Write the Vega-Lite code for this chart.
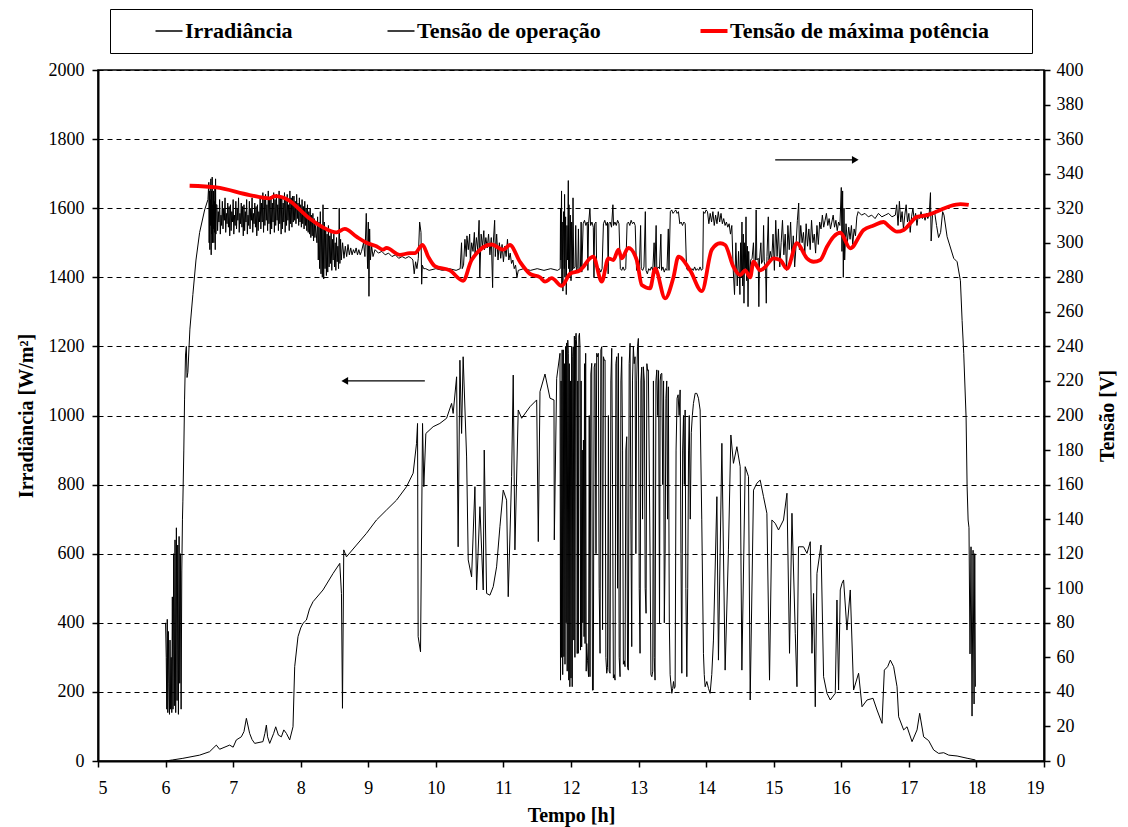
{
"$schema": "https://vega.github.io/schema/vega-lite/v6.json",
"width": 946, "height": 691,
"autosize": {"type": "none"},
"padding": {"left": 98, "top": 70, "right": 84, "bottom": 66},
"background": "white",
"config": {
  "font": "Liberation Serif",
  "view": {"stroke": "black", "strokeWidth": 1.5},
  "axis": {"domainColor": "black", "domainWidth": 2, "tickColor": "black", "tickWidth": 1.5, "tickSize": 6,
    "labelFont": "Liberation Serif", "labelFontSize": 18, "labelColor": "black",
    "titleFont": "Liberation Serif", "titleFontSize": 20, "titleFontWeight": "bold", "titleColor": "black"}
},
"datasets": {
"irr": [
{"t":6.0,"v":0},{"t":6.1,"v":3},{"t":6.256,"v":7.7},{"t":6.504,"v":17},{"t":6.652,"v":27},{"t":6.751,"v":46},{"t":6.8,"v":34},{"t":6.948,"v":46},{"t":7.0,"v":40},{"t":7.047,"v":61},{"t":7.121,"v":70},{"t":7.16,"v":85},{"t":7.196,"v":123.5},{"t":7.244,"v":80},{"t":7.28,"v":62},{"t":7.319,"v":51},{"t":7.441,"v":56},{"t":7.47,"v":80},{"t":7.492,"v":104},{"t":7.51,"v":70},{"t":7.541,"v":51},{"t":7.6,"v":80},{"t":7.63,"v":99},{"t":7.67,"v":75},{"t":7.714,"v":70},{"t":7.75,"v":90},{"t":7.788,"v":80},{"t":7.837,"v":61},{"t":7.886,"v":99},{"t":7.911,"v":273},{"t":7.96,"v":360},{"t":8.0,"v":385},{"t":8.034,"v":398.5},{"t":8.084,"v":408},{"t":8.13,"v":440},{"t":8.182,"v":461},{"t":8.33,"v":495},{"t":8.479,"v":543},{"t":8.578,"v":572},{"t":8.603,"v":485},{"t":8.618,"v":152.5},{"t":8.637,"v":611},{"t":8.677,"v":591},{"t":8.825,"v":625},{"t":8.973,"v":659},{"t":9.121,"v":697.5},{"t":9.27,"v":726.5},{"t":9.418,"v":755},{"t":9.566,"v":794},{"t":9.664,"v":833},{"t":9.714,"v":919.5},{"t":9.729,"v":977},{"t":9.738,"v":360},{"t":9.773,"v":316},{"t":9.803,"v":977},{"t":9.822,"v":794},{"t":9.852,"v":948},{"t":9.96,"v":967.6},{"t":10.059,"v":977},{"t":10.159,"v":992},{"t":10.233,"v":1035},{"t":10.256,"v":1006},{"t":10.307,"v":1112},{"t":10.33,"v":620},{"t":10.356,"v":1160},{"t":10.381,"v":948},{"t":10.404,"v":1170},{"t":10.455,"v":880},{"t":10.479,"v":582},{"t":10.529,"v":533},{"t":10.578,"v":794},{"t":10.603,"v":495},{"t":10.652,"v":736},{"t":10.701,"v":495},{"t":10.716,"v":900},{"t":10.751,"v":485},{"t":10.8,"v":480},{"t":10.849,"v":504.5},{"t":10.899,"v":562},{"t":10.948,"v":678},{"t":10.997,"v":784},{"t":11.047,"v":755},{"t":11.071,"v":475.5},{"t":11.121,"v":823},{"t":11.145,"v":1117},{"t":11.17,"v":611},{"t":11.219,"v":1016},{"t":11.27,"v":992},{"t":11.393,"v":1025.5},{"t":11.492,"v":1045},{"t":11.516,"v":635},{"t":11.541,"v":1069},{"t":11.615,"v":1120},{"t":11.689,"v":1050},{"t":11.748,"v":1045},{"t":11.753,"v":640},{"t":11.788,"v":1107.6},
{"t":11.837,"v":1180},{"t":11.845,"v":234},{"t":11.853,"v":1100},{"t":11.861,"v":300},{"t":11.869,"v":1190},{"t":11.877,"v":250},{"t":11.886,"v":1190},{"t":11.895,"v":302},{"t":11.903,"v":1150},{"t":11.911,"v":280},{"t":11.92,"v":1200},{"t":11.928,"v":400},{"t":11.936,"v":1210},{"t":11.944,"v":260},{"t":11.952,"v":1218},{"t":11.96,"v":1180},{"t":11.967,"v":234},{"t":11.975,"v":1150},{"t":11.983,"v":215},{"t":11.991,"v":1100},{"t":12.0,"v":240},{"t":12.01,"v":1200},{"t":12.018,"v":215},{"t":12.026,"v":1170},{"t":12.034,"v":1199},{"t":12.042,"v":350},{"t":12.05,"v":1230},{"t":12.058,"v":300},{"t":12.067,"v":1220},{"t":12.075,"v":1238},{"t":12.084,"v":1200},{"t":12.092,"v":311},{"t":12.1,"v":1100},{"t":12.108,"v":311.7},{"t":12.117,"v":1230},{"t":12.125,"v":1238},{"t":12.133,"v":1200},{"t":12.141,"v":321},{"t":12.15,"v":1100},{"t":12.158,"v":330},{"t":12.167,"v":900},{"t":12.175,"v":400},{"t":12.184,"v":929},{"t":12.193,"v":360},{"t":12.2,"v":1150},{"t":12.208,"v":340},{"t":12.217,"v":1180},{"t":12.225,"v":260},{"t":12.233,"v":340},{"t":12.245,"v":290},{"t":12.26,"v":244},{"t":12.27,"v":1000},{"t":12.281,"v":244},{"t":12.294,"v":1120},{"t":12.307,"v":1151},{"t":12.318,"v":205},{"t":12.33,"v":205.5},{"t":12.343,"v":1140},{"t":12.356,"v":1151},{"t":12.37,"v":600},{"t":12.38,"v":1180},{"t":12.392,"v":1170},{"t":12.404,"v":1180},{"t":12.417,"v":500},{"t":12.43,"v":311.7},{"t":12.442,"v":1190},{"t":12.455,"v":1199},{"t":12.467,"v":380},{"t":12.48,"v":1170},{"t":12.492,"v":1160},{"t":12.504,"v":1160.6},{"t":12.516,"v":300},{"t":12.529,"v":254},{"t":12.54,"v":270},{"t":12.553,"v":1000},{"t":12.565,"v":260},{"t":12.578,"v":254},{"t":12.59,"v":1100},{"t":12.603,"v":1194.5},{"t":12.615,"v":800},{"t":12.627,"v":240},{"t":12.64,"v":250},{"t":12.652,"v":234},{"t":12.665,"v":1150},{"t":12.677,"v":1170},{"t":12.689,"v":500},{"t":12.701,"v":1180},{"t":12.713,"v":300},{"t":12.726,"v":244},{"t":12.739,"v":1100},{"t":12.751,"v":1170},{"t":12.763,"v":900},{"t":12.775,"v":280},{"t":12.788,"v":290},{"t":12.8,"v":273},{"t":12.812,"v":900},{"t":12.825,"v":938.6},{"t":12.837,"v":270},{"t":12.849,"v":263},{"t":12.861,"v":1150},{"t":12.874,"v":1209},{"t":12.886,"v":700},{"t":12.899,"v":331},{"t":12.91,"v":1100},{"t":12.923,"v":1200},{"t":12.935,"v":1150},{"t":12.948,"v":1170},{"t":12.96,"v":600},{"t":12.972,"v":1100},{"t":12.985,"v":1200},{"t":12.997,"v":1223},{"t":13.01,"v":500},{"t":13.022,"v":311.7},{"t":13.035,"v":1100},{"t":13.047,"v":1140},{"t":13.059,"v":700},{"t":13.071,"v":1141},{"t":13.085,"v":1100},{"t":13.098,"v":500},{"t":13.111,"v":427.5},{"t":13.123,"v":1150},{"t":13.134,"v":1130},{"t":13.145,"v":1132},{"t":13.17,"v":600},{"t":13.183,"v":250},{"t":13.196,"v":244},{"t":13.21,"v":260},{"t":13.22,"v":1100},{"t":13.232,"v":300},{"t":13.244,"v":234},{"t":13.257,"v":1100},{"t":13.27,"v":1132},{"t":13.283,"v":1000},{"t":13.296,"v":1130},{"t":13.31,"v":400},{"t":13.32,"v":1100},{"t":13.33,"v":1120},{"t":13.344,"v":1122},{"t":13.357,"v":800},{"t":13.37,"v":1100},{"t":13.381,"v":400},{"t":13.393,"v":601},{"t":13.405,"v":1050},{"t":13.417,"v":1100},{"t":13.429,"v":700},{"t":13.441,"v":1083},{"t":13.455,"v":400},{"t":13.467,"v":250},{"t":13.48,"v":220},{"t":13.492,"v":196},{"t":13.505,"v":210},{"t":13.517,"v":230},{"t":13.529,"v":210},{"t":13.541,"v":215},{"t":13.555,"v":900},{"t":13.57,"v":1050},{"t":13.585,"v":1060},{"t":13.6,"v":1000},{"t":13.615,"v":1074},{"t":13.627,"v":600},{"t":13.64,"v":254},{"t":13.652,"v":900},{"t":13.665,"v":1000},{"t":13.677,"v":800},{"t":13.689,"v":1016},{"t":13.7,"v":500},{"t":13.714,"v":244},{"t":13.727,"v":500},{"t":13.74,"v":900},{"t":13.75,"v":1000},{"t":13.765,"v":700},{"t":13.78,"v":950},{"t":13.796,"v":1000},{"t":13.812,"v":1035},{"t":13.837,"v":1064},{"t":13.862,"v":1064},{"t":13.886,"v":1050},{"t":13.911,"v":1016},{"t":13.935,"v":700},{"t":13.96,"v":311.7},{"t":13.972,"v":250},{"t":13.985,"v":215},{"t":14.01,"v":230},{"t":14.035,"v":210},{"t":14.059,"v":196},{"t":14.083,"v":250},{"t":14.108,"v":350},{"t":14.159,"v":765},{"t":14.182,"v":292},{"t":14.233,"v":919.5},{"t":14.281,"v":263},{"t":14.33,"v":611},{"t":14.366,"v":943.6},{"t":14.404,"v":861.6},{"t":14.455,"v":909.7},{"t":14.504,"v":851.8},{"t":14.529,"v":263},{"t":14.578,"v":851.8},{"t":14.627,"v":823},{"t":14.652,"v":176.6},{"t":14.701,"v":784},{"t":14.751,"v":804},{"t":14.8,"v":813},{"t":14.849,"v":765},{"t":14.899,"v":717},{"t":14.938,"v":234},{"t":14.973,"v":697.5},{"t":15.022,"v":688},{"t":15.071,"v":668.6},{"t":15.145,"v":697.5},{"t":15.196,"v":775},{"t":15.234,"v":311.7},{"t":15.27,"v":717},{"t":15.319,"v":369.6},{"t":15.344,"v":215},{"t":15.367,"v":620},{"t":15.441,"v":620},{"t":15.492,"v":601},{"t":15.541,"v":634.7},{"t":15.566,"v":311.7},{"t":15.59,"v":485},{"t":15.615,"v":157},{"t":15.64,"v":543},{"t":15.7,"v":625},{"t":15.738,"v":244},{"t":15.788,"v":196},{"t":15.837,"v":176.6},{"t":15.911,"v":196},{"t":15.936,"v":466},{"t":15.96,"v":205.5},{"t":15.985,"v":495},{"t":16.01,"v":514},{"t":16.034,"v":524},{"t":16.084,"v":379},{"t":16.133,"v":495},{"t":16.182,"v":205.5},{"t":16.256,"v":254},{"t":16.307,"v":157},{"t":16.381,"v":176.6},{"t":16.47,"v":181.5},{"t":16.529,"v":147.6},{"t":16.603,"v":109},{"t":16.637,"v":263},{"t":16.686,"v":273},{"t":16.726,"v":292},{"t":16.775,"v":273},{"t":16.825,"v":215},{"t":16.849,"v":128},{"t":16.923,"v":90},{"t":16.973,"v":99},{"t":17.047,"v":56},{"t":17.121,"v":90},{"t":17.16,"v":138},{"t":17.219,"v":70},{"t":17.293,"v":59},{"t":17.367,"v":32},{"t":17.441,"v":22},{"t":17.516,"v":24},{"t":17.59,"v":17},{"t":17.714,"v":14.5},{"t":17.862,"v":8},{"t":17.985,"v":3}
],
"op": [
{"t":6.0,"v":80},{"t":6.01,"v":60},{"t":6.018,"v":30},{"t":6.025,"v":82},{"t":6.033,"v":28},{"t":6.041,"v":75},{"t":6.05,"v":45},{"t":6.058,"v":27},{"t":6.066,"v":70},{"t":6.075,"v":30},{"t":6.083,"v":60},{"t":6.092,"v":28},{"t":6.1,"v":95},{"t":6.11,"v":30},{"t":6.12,"v":120},{"t":6.13,"v":32},{"t":6.14,"v":128},{"t":6.15,"v":28},{"t":6.16,"v":135},{"t":6.17,"v":35},{"t":6.18,"v":125},{"t":6.19,"v":27},{"t":6.2,"v":130},{"t":6.21,"v":45},{"t":6.22,"v":120},{"t":6.23,"v":30},{"t":6.24,"v":110},{"t":6.25,"v":140},
{"t":6.256,"v":150},{"t":6.27,"v":180},{"t":6.281,"v":209},{"t":6.295,"v":235},{"t":6.307,"v":240},{"t":6.318,"v":222},{"t":6.33,"v":225},{"t":6.36,"v":250},{"t":6.404,"v":270},{"t":6.45,"v":290},{"t":6.504,"v":306},{"t":6.578,"v":319},{"t":6.627,"v":325},
{"t":6.64,"v":335},{"t":6.645,"v":300},{"t":6.65,"v":330},{"t":6.655,"v":296},{"t":6.66,"v":325},{"t":6.665,"v":310},{"t":6.67,"v":337},{"t":6.675,"v":293},{"t":6.68,"v":330},{"t":6.685,"v":305},{"t":6.69,"v":338},{"t":6.695,"v":300},{"t":6.7,"v":322},{"t":6.705,"v":308},{"t":6.71,"v":330},{"t":6.715,"v":300},{"t":6.72,"v":324},{"t":6.725,"v":306},{"t":6.73,"v":332},{"t":6.735,"v":296},{"t":6.74,"v":337},{"t":6.745,"v":305},{"t":6.75,"v":322},
{"t":6.76,"v":322},{"t":6.77,"v":307},{"t":6.78,"v":318},{"t":6.79,"v":312},{"t":6.8,"v":325},{"t":6.81,"v":305},{"t":6.82,"v":316},{"t":6.83,"v":310},{"t":6.84,"v":324},{"t":6.85,"v":308},{"t":6.86,"v":320},{"t":6.87,"v":313},{"t":6.88,"v":326},{"t":6.89,"v":306},{"t":6.9,"v":317},{"t":6.91,"v":311},{"t":6.92,"v":323},{"t":6.93,"v":309},{"t":6.94,"v":321},{"t":6.95,"v":304},{"t":6.96,"v":322},{"t":6.97,"v":307},{"t":6.98,"v":318},{"t":6.99,"v":312},{"t":7.0,"v":325},{"t":7.01,"v":305},{"t":7.02,"v":316},{"t":7.03,"v":310},{"t":7.04,"v":324},{"t":7.05,"v":308},{"t":7.06,"v":320},{"t":7.07,"v":313},{"t":7.08,"v":326},{"t":7.09,"v":306},{"t":7.1,"v":317},{"t":7.11,"v":311},{"t":7.12,"v":323},{"t":7.13,"v":309},{"t":7.14,"v":321},{"t":7.15,"v":304},{"t":7.16,"v":322},{"t":7.17,"v":307},{"t":7.18,"v":318},{"t":7.19,"v":312},{"t":7.2,"v":325},{"t":7.21,"v":305},{"t":7.22,"v":316},{"t":7.23,"v":310},{"t":7.24,"v":324},{"t":7.25,"v":308},{"t":7.26,"v":320},{"t":7.27,"v":313},{"t":7.28,"v":326},{"t":7.29,"v":306},{"t":7.3,"v":317},{"t":7.31,"v":311},{"t":7.32,"v":323},{"t":7.33,"v":309},{"t":7.34,"v":321},{"t":7.35,"v":304},{"t":7.36,"v":322},{"t":7.37,"v":307},{"t":7.38,"v":318},{"t":7.39,"v":312},
{"t":7.4,"v":327},{"t":7.41,"v":308},{"t":7.42,"v":323},{"t":7.43,"v":312},{"t":7.44,"v":329},{"t":7.45,"v":306},{"t":7.46,"v":325},{"t":7.47,"v":310},{"t":7.48,"v":328},{"t":7.49,"v":313},{"t":7.5,"v":322},{"t":7.51,"v":307},{"t":7.52,"v":330},{"t":7.53,"v":311},{"t":7.54,"v":326},{"t":7.55,"v":305},{"t":7.56,"v":327},{"t":7.57,"v":308},{"t":7.58,"v":323},{"t":7.59,"v":312},{"t":7.6,"v":329},{"t":7.61,"v":306},{"t":7.62,"v":325},{"t":7.63,"v":310},{"t":7.64,"v":328},{"t":7.65,"v":313},{"t":7.66,"v":322},{"t":7.67,"v":307},{"t":7.68,"v":330},{"t":7.69,"v":311},{"t":7.7,"v":326},{"t":7.71,"v":305},{"t":7.72,"v":327},{"t":7.73,"v":308},{"t":7.74,"v":323},{"t":7.75,"v":312},{"t":7.76,"v":329},{"t":7.77,"v":306},{"t":7.78,"v":325},{"t":7.79,"v":310},{"t":7.8,"v":328},{"t":7.81,"v":313},{"t":7.82,"v":322},{"t":7.83,"v":307},{"t":7.84,"v":330},{"t":7.85,"v":311},{"t":7.86,"v":326},{"t":7.87,"v":309},{"t":7.88,"v":327},{"t":7.89,"v":312},
{"t":7.9,"v":327},{"t":7.91,"v":313},{"t":7.92,"v":324},{"t":7.93,"v":311},{"t":7.94,"v":328},{"t":7.95,"v":314},{"t":7.96,"v":323},{"t":7.97,"v":310},{"t":7.98,"v":326},{"t":7.99,"v":312},{"t":8.0,"v":322},{"t":8.01,"v":309},{"t":8.02,"v":325},{"t":8.03,"v":311},{"t":8.04,"v":321},{"t":8.05,"v":308},{"t":8.06,"v":324},{"t":8.07,"v":310},{"t":8.08,"v":320},{"t":8.09,"v":307},{"t":8.1,"v":322},{"t":8.11,"v":306},{"t":8.12,"v":318},{"t":8.13,"v":305},{"t":8.14,"v":320},{"t":8.15,"v":303},{"t":8.16,"v":316},{"t":8.17,"v":304},{"t":8.18,"v":317},{"t":8.19,"v":301},{"t":8.2,"v":314},{"t":8.21,"v":303},{"t":8.22,"v":310},
{"t":8.24,"v":300},{"t":8.25,"v":315},{"t":8.26,"v":290},{"t":8.27,"v":312},{"t":8.28,"v":285},{"t":8.29,"v":318},{"t":8.3,"v":282},{"t":8.31,"v":310},{"t":8.32,"v":280},{"t":8.33,"v":322},{"t":8.34,"v":279},{"t":8.35,"v":312},{"t":8.36,"v":285},{"t":8.37,"v":308},{"t":8.38,"v":281},{"t":8.39,"v":305},{"t":8.4,"v":283},{"t":8.41,"v":310},{"t":8.42,"v":286},{"t":8.43,"v":304},{"t":8.44,"v":288},{"t":8.45,"v":306},{"t":8.46,"v":284},{"t":8.47,"v":302},{"t":8.48,"v":290},{"t":8.49,"v":305},{"t":8.5,"v":286},{"t":8.51,"v":300},{"t":8.52,"v":284},{"t":8.53,"v":303},{"t":8.54,"v":289},{"t":8.55,"v":298},{"t":8.56,"v":285},{"t":8.57,"v":320},{"t":8.58,"v":288},{"t":8.59,"v":302},{"t":8.6,"v":290},{"t":8.62,"v":300},{"t":8.64,"v":291},{"t":8.66,"v":298},{"t":8.68,"v":292},{"t":8.7,"v":299},{"t":8.72,"v":293},{"t":8.74,"v":297},{"t":8.76,"v":293},{"t":8.78,"v":296},{"t":8.8,"v":294},{"t":8.82,"v":297},{"t":8.84,"v":293},{"t":8.86,"v":296},{"t":8.88,"v":293},
{"t":8.9,"v":295},{"t":8.93,"v":300},{"t":8.95,"v":292},{"t":8.97,"v":317},{"t":8.99,"v":285},{"t":9.0,"v":312},{"t":9.01,"v":269},{"t":9.02,"v":308},{"t":9.03,"v":290},{"t":9.05,"v":298},{"t":9.07,"v":292},
{"t":9.1,"v":296},{"t":9.15,"v":294},{"t":9.2,"v":295},{"t":9.25,"v":293},{"t":9.3,"v":294},{"t":9.35,"v":292},{"t":9.4,"v":293},{"t":9.45,"v":291},{"t":9.5,"v":292},{"t":9.55,"v":291},{"t":9.6,"v":292},{"t":9.64,"v":291},
{"t":9.66,"v":290},{"t":9.68,"v":282},{"t":9.7,"v":289},{"t":9.72,"v":285},{"t":9.74,"v":291},{"t":9.76,"v":312},{"t":9.78,"v":306},{"t":9.79,"v":276},{"t":9.8,"v":287},{"t":9.82,"v":285},
{"t":9.85,"v":285},{"t":9.9,"v":284},{"t":10.0,"v":285},{"t":10.1,"v":284},{"t":10.2,"v":285},{"t":10.3,"v":284},{"t":10.36,"v":285},
{"t":10.38,"v":300},{"t":10.39,"v":285},{"t":10.41,"v":287},{"t":10.43,"v":302},{"t":10.45,"v":292},{"t":10.46,"v":304},{"t":10.48,"v":296},{"t":10.5,"v":305},{"t":10.51,"v":290},{"t":10.53,"v":300},{"t":10.55,"v":295},{"t":10.57,"v":306},{"t":10.58,"v":293},{"t":10.6,"v":303},{"t":10.62,"v":296},{"t":10.64,"v":313},{"t":10.65,"v":280},{"t":10.67,"v":305},{"t":10.69,"v":298},{"t":10.71,"v":307},{"t":10.72,"v":296},{"t":10.74,"v":303},{"t":10.76,"v":297},{"t":10.78,"v":305},{"t":10.8,"v":293},{"t":10.82,"v":303},{"t":10.84,"v":274},{"t":10.85,"v":300},{"t":10.87,"v":313},{"t":10.88,"v":292},{"t":10.9,"v":305},{"t":10.92,"v":290},{"t":10.94,"v":300},{"t":10.96,"v":291},{"t":10.98,"v":299},{"t":11.0,"v":289},{"t":11.02,"v":298},{"t":11.04,"v":292},{"t":11.06,"v":302},{"t":11.08,"v":290},{"t":11.1,"v":294},{"t":11.12,"v":288},{"t":11.14,"v":290},{"t":11.16,"v":285},{"t":11.18,"v":287},{"t":11.2,"v":280},{"t":11.22,"v":284},
{"t":11.3,"v":285},{"t":11.4,"v":284},{"t":11.5,"v":285},{"t":11.6,"v":284},{"t":11.7,"v":285},{"t":11.8,"v":284},{"t":11.84,"v":285},
{"t":11.845,"v":320},{"t":11.85,"v":290},{"t":11.86,"v":330},{"t":11.865,"v":275},{"t":11.87,"v":312},{"t":11.88,"v":272},{"t":11.89,"v":318},{"t":11.9,"v":285},{"t":11.905,"v":328},{"t":11.91,"v":280},{"t":11.92,"v":315},{"t":11.93,"v":270},{"t":11.94,"v":310},{"t":11.95,"v":290},{"t":11.96,"v":336},{"t":11.965,"v":285},{"t":11.97,"v":322},{"t":11.98,"v":280},{"t":11.99,"v":316},{"t":12.0,"v":278},{"t":12.01,"v":312},{"t":12.02,"v":284},{"t":12.03,"v":326},{"t":12.04,"v":285},{"t":12.06,"v":286},{"t":12.07,"v":310},{"t":12.08,"v":284},{"t":12.1,"v":285},{"t":12.11,"v":308},{"t":12.12,"v":284},{"t":12.14,"v":286},{"t":12.15,"v":312},{"t":12.16,"v":283},{"t":12.18,"v":311},{"t":12.2,"v":313},{"t":12.22,"v":310},{"t":12.24,"v":312},{"t":12.25,"v":284},{"t":12.26,"v":311},{"t":12.28,"v":320},{"t":12.29,"v":310},{"t":12.31,"v":312},{"t":12.33,"v":309},{"t":12.34,"v":280},{"t":12.35,"v":311},{"t":12.37,"v":312},{"t":12.38,"v":285},{"t":12.4,"v":284},{"t":12.42,"v":285},{"t":12.44,"v":283},{"t":12.46,"v":285},{"t":12.48,"v":311},{"t":12.5,"v":313},{"t":12.52,"v":310},{"t":12.54,"v":312},{"t":12.55,"v":282},{"t":12.56,"v":311},{"t":12.58,"v":312},{"t":12.6,"v":309},{"t":12.62,"v":322},{"t":12.63,"v":310},{"t":12.65,"v":312},{"t":12.67,"v":310},{"t":12.69,"v":313},{"t":12.71,"v":311},{"t":12.73,"v":285},{"t":12.75,"v":284},{"t":12.77,"v":286},{"t":12.79,"v":284},{"t":12.81,"v":285},{"t":12.83,"v":311},{"t":12.85,"v":312},{"t":12.87,"v":310},{"t":12.89,"v":313},{"t":12.91,"v":311},{"t":12.93,"v":312},{"t":12.95,"v":310},{"t":12.97,"v":284},{"t":12.99,"v":286},{"t":13.01,"v":284},{"t":13.03,"v":310},{"t":13.04,"v":285},{"t":13.06,"v":284},{"t":13.08,"v":286},{"t":13.1,"v":318},{"t":13.11,"v":284},{"t":13.13,"v":282},{"t":13.15,"v":285},{"t":13.17,"v":284},{"t":13.19,"v":286},{"t":13.21,"v":284},{"t":13.23,"v":300},{"t":13.24,"v":282},{"t":13.26,"v":310},{"t":13.27,"v":284},{"t":13.29,"v":286},{"t":13.31,"v":285},{"t":13.33,"v":305},{"t":13.34,"v":284},{"t":13.36,"v":286},{"t":13.38,"v":283},{"t":13.4,"v":285},{"t":13.42,"v":284},{"t":13.44,"v":308},{"t":13.45,"v":284},{"t":13.47,"v":318},{"t":13.49,"v":319},{"t":13.51,"v":317},{"t":13.53,"v":318},{"t":13.55,"v":319},{"t":13.57,"v":317},{"t":13.59,"v":318},{"t":13.61,"v":311},{"t":13.63,"v":312},{"t":13.65,"v":310},{"t":13.67,"v":312},{"t":13.69,"v":311},{"t":13.71,"v":285},{"t":13.73,"v":284},{"t":13.75,"v":286},{"t":13.77,"v":284},{"t":13.79,"v":285},{"t":13.81,"v":284},{"t":13.83,"v":286},{"t":13.85,"v":284},{"t":13.87,"v":285},{"t":13.89,"v":284},{"t":13.91,"v":286},{"t":13.93,"v":284},{"t":13.95,"v":285},{"t":13.96,"v":318},{"t":13.98,"v":317},{"t":14.0,"v":319},{"t":14.02,"v":318},{"t":14.04,"v":311},{"t":14.06,"v":317},{"t":14.08,"v":312},{"t":14.1,"v":318},{"t":14.12,"v":310},{"t":14.14,"v":316},{"t":14.16,"v":311},{"t":14.18,"v":318},{"t":14.2,"v":312},{"t":14.22,"v":317},{"t":14.24,"v":311},{"t":14.26,"v":314},{"t":14.28,"v":310},{"t":14.3,"v":312},{"t":14.32,"v":309},{"t":14.34,"v":311},{"t":14.36,"v":305},{"t":14.38,"v":310},{"t":14.4,"v":285},{"t":14.42,"v":270},{"t":14.44,"v":300},{"t":14.46,"v":275},{"t":14.48,"v":295},
{"t":14.5,"v":270},{"t":14.51,"v":300},{"t":14.52,"v":280},{"t":14.53,"v":312},{"t":14.54,"v":275},{"t":14.55,"v":305},{"t":14.56,"v":265},{"t":14.57,"v":300},{"t":14.58,"v":285},{"t":14.59,"v":315},{"t":14.6,"v":278},{"t":14.61,"v":298},{"t":14.62,"v":263},{"t":14.63,"v":295},{"t":14.64,"v":280},{"t":14.66,"v":290},{"t":14.68,"v":291},{"t":14.7,"v":300},{"t":14.71,"v":289},{"t":14.73,"v":290},{"t":14.74,"v":319},{"t":14.75,"v":290},{"t":14.77,"v":291},{"t":14.78,"v":263},{"t":14.79,"v":290},{"t":14.81,"v":300},{"t":14.82,"v":288},{"t":14.84,"v":290},{"t":14.85,"v":310},{"t":14.86,"v":289},{"t":14.88,"v":285},{"t":14.89,"v":265},{"t":14.9,"v":292},{"t":14.92,"v":315},{"t":14.93,"v":290},{"t":14.95,"v":295},{"t":14.97,"v":290},{"t":14.99,"v":305},{"t":15.01,"v":284},{"t":15.03,"v":313},{"t":15.05,"v":292},{"t":15.07,"v":308},{"t":15.09,"v":286},{"t":15.11,"v":300},{"t":15.13,"v":313},{"t":15.15,"v":293},{"t":15.17,"v":305},{"t":15.19,"v":284},{"t":15.21,"v":310},{"t":15.23,"v":296},{"t":15.25,"v":312},{"t":15.27,"v":290},{"t":15.29,"v":304},{"t":15.31,"v":286},{"t":15.33,"v":298},{"t":15.35,"v":313},{"t":15.37,"v":323},{"t":15.38,"v":296},{"t":15.4,"v":310},{"t":15.42,"v":300},{"t":15.44,"v":306},{"t":15.46,"v":294},{"t":15.48,"v":311},{"t":15.5,"v":298},{"t":15.52,"v":308},{"t":15.54,"v":296},{"t":15.56,"v":313},{"t":15.58,"v":300},{"t":15.6,"v":305},{"t":15.62,"v":294},{"t":15.64,"v":310},{"t":15.66,"v":299},{"t":15.68,"v":312},{"t":15.7,"v":308},{"t":15.72,"v":316},{"t":15.74,"v":309},{"t":15.76,"v":313},{"t":15.78,"v":317},{"t":15.8,"v":310},{"t":15.82,"v":314},{"t":15.84,"v":308},{"t":15.86,"v":312},{"t":15.88,"v":316},{"t":15.9,"v":309},{"t":15.92,"v":313},{"t":15.94,"v":307},{"t":15.96,"v":312},{"t":15.98,"v":310},{"t":16.0,"v":332},{"t":16.01,"v":295},{"t":16.02,"v":330},{"t":16.03,"v":280},{"t":16.04,"v":320},{"t":16.05,"v":290},{"t":16.07,"v":311},{"t":16.09,"v":300},{"t":16.11,"v":309},{"t":16.13,"v":302},{"t":16.15,"v":310},{"t":16.17,"v":299},{"t":16.19,"v":308},{"t":16.21,"v":304},{"t":16.23,"v":315},{"t":16.25,"v":318},{"t":16.3,"v":316},{"t":16.35,"v":317},{"t":16.4,"v":315},{"t":16.45,"v":316},{"t":16.5,"v":314},{"t":16.55,"v":317},{"t":16.6,"v":315},{"t":16.65,"v":316},{"t":16.7,"v":317},{"t":16.75,"v":315},{"t":16.8,"v":316},{"t":16.82,"v":322},{"t":16.84,"v":310},{"t":16.86,"v":324},{"t":16.88,"v":312},{"t":16.9,"v":318},{"t":16.92,"v":308},{"t":16.94,"v":316},{"t":16.96,"v":322},{"t":16.98,"v":312},{"t":17.0,"v":317},{"t":17.02,"v":306},{"t":17.04,"v":315},{"t":17.06,"v":320},{"t":17.08,"v":313},{"t":17.1,"v":317},{"t":17.12,"v":310},{"t":17.14,"v":316},{"t":17.16,"v":314},{"t":17.18,"v":318},{"t":17.2,"v":314},{"t":17.22,"v":316},{"t":17.24,"v":313},{"t":17.26,"v":317},{"t":17.28,"v":314},{"t":17.3,"v":316},{"t":17.32,"v":329},{"t":17.33,"v":301},{"t":17.35,"v":316},{"t":17.38,"v":318},{"t":17.41,"v":310},{"t":17.44,"v":303},{"t":17.47,"v":306},{"t":17.5,"v":318},{"t":17.52,"v":316},{"t":17.566,"v":303.5},{"t":17.664,"v":291},{"t":17.714,"v":289},{"t":17.763,"v":278},{"t":17.788,"v":255},{"t":17.812,"v":236},{"t":17.847,"v":199},{"t":17.862,"v":159},{"t":17.877,"v":139.5},{"t":17.89,"v":135},{"t":17.905,"v":62},{"t":17.92,"v":124},{"t":17.935,"v":26},{"t":17.95,"v":122},{"t":17.965,"v":33},{"t":17.975,"v":120},{"t":17.985,"v":43}
],
"mpp": [
{"t":6.356,"v":333},{"t":6.751,"v":332},{"t":7.244,"v":327.6},{"t":7.541,"v":325.7},{"t":7.615,"v":327},{"t":7.837,"v":324.3},{"t":7.936,"v":321},{"t":8.133,"v":314},{"t":8.326,"v":309},{"t":8.529,"v":306},{"t":8.652,"v":308},{"t":8.825,"v":303.5},{"t":8.973,"v":300},{"t":9.121,"v":298},{"t":9.219,"v":296},{"t":9.27,"v":297},{"t":9.467,"v":293},{"t":9.615,"v":294},{"t":9.689,"v":294},{"t":9.803,"v":298.7},{"t":9.886,"v":292},{"t":9.985,"v":286.5},{"t":10.207,"v":284},{"t":10.404,"v":278},{"t":10.529,"v":290},{"t":10.825,"v":299},{"t":10.997,"v":296},{"t":11.096,"v":298.7},{"t":11.244,"v":289},{"t":11.393,"v":282},{"t":11.541,"v":280},{"t":11.615,"v":277.5},{"t":11.714,"v":279.5},{"t":11.862,"v":275},{"t":11.985,"v":282},{"t":12.133,"v":284},{"t":12.182,"v":286},{"t":12.281,"v":291},{"t":12.33,"v":292},{"t":12.455,"v":277.5},{"t":12.553,"v":291},{"t":12.627,"v":290},{"t":12.701,"v":296},{"t":12.751,"v":291},{"t":12.849,"v":297},{"t":12.973,"v":290},{"t":13.047,"v":275.5},{"t":13.17,"v":273.6},{"t":13.244,"v":285},{"t":13.393,"v":267.8},{"t":13.516,"v":280},{"t":13.59,"v":292},{"t":13.763,"v":284},{"t":13.936,"v":272},{"t":14.084,"v":296},{"t":14.207,"v":299.7},{"t":14.281,"v":298.7},{"t":14.404,"v":286},{"t":14.504,"v":281.3},{"t":14.578,"v":284},{"t":14.652,"v":280},{"t":14.701,"v":289},{"t":14.8,"v":284},{"t":14.874,"v":286},{"t":14.997,"v":291},{"t":15.096,"v":290},{"t":15.196,"v":285},{"t":15.344,"v":299.7},{"t":15.492,"v":291},{"t":15.59,"v":289},{"t":15.689,"v":290},{"t":15.788,"v":297.7},{"t":15.886,"v":303.5},{"t":15.985,"v":305.8},{"t":16.133,"v":296.8},{"t":16.33,"v":307.4},{"t":16.479,"v":310},{"t":16.627,"v":312},{"t":16.701,"v":309.7},{"t":16.825,"v":306.4},{"t":16.923,"v":307.4},{"t":17.121,"v":315},{"t":17.27,"v":316},{"t":17.467,"v":319},{"t":17.615,"v":321.3},{"t":17.763,"v":322.4},{"t":17.886,"v":321.9}
],
"arrR": [{"t":16.207,"t2":15.022,"v":348}],
"arrL": [{"t":8.652,"t2":9.837,"v":220}]
},
"encoding": {
  "x": {"field": "t", "type": "quantitative",
    "scale": {"domain": [5, 19], "nice": false, "zero": false},
    "axis": {"title": "Tempo [h]", "values": [5,6,7,8,9,10,11,12,13,14,15,16,17,18,19], "grid": false, "labelPadding": 12, "titlePadding": 8}}
},
"layer": [
  {"data": {"name": "irr"},
   "mark": {"type": "line", "strokeWidth": 1, "color": "black"},
   "encoding": {
     "y": {"field": "v", "type": "quantitative",
       "scale": {"domain": [0, 2000], "nice": false, "zero": true},
       "axis": {"orient": "left", "title": "Irradiância [W/m²]", "format": "d", "values": [0,200,400,600,800,1000,1200,1400,1600,1800,2000],
         "grid": true, "gridColor": "black", "gridDash": [5, 4], "gridWidth": 1, "gridOpacity": 1,
         "labelPadding": 8, "titlePadding": 12}},
     "color": {"datum": "Irradiância", "type": "nominal",
       "scale": {"domain": ["Irradiância", "Tensão de operação", "Tensão de máxima potência"], "range": ["#000000", "#000000", "#ff0000"]},
       "legend": {"title": "\u00a0", "titleOrient": "left", "titlePadding": 37, "titleFontSize": 22, "orient": "none", "legendX": 12, "legendY": -61, "direction": "horizontal",
         "symbolType": "stroke", "symbolSize": 729, "symbolStrokeWidth": 1.5,
         "labelFont": "Liberation Serif", "labelFontWeight": "bold", "labelFontSize": 22, "labelColor": "black", "labelLimit": 600, "labelOffset": 5,
         "labelExpr": "datum.value === 'Tensão de máxima potência' ? datum.label + '\u2800\u2800' : datum.label",
         "columnPadding": 91, "padding": 11, "strokeColor": "black", "fillColor": "white",
         "encode": {"symbols": {"update": {"strokeWidth": {"signal": "datum.value === 'Tensão de máxima potência' ? 4 : 1.5"}}}}}}
   }},
  {"layer": [
     {"data": {"name": "op"}, "mark": {"type": "line", "strokeWidth": 1},
      "encoding": {"color": {"datum": "Tensão de operação", "type": "nominal"}}},
     {"data": {"name": "mpp"}, "mark": {"type": "line", "strokeWidth": 3.8, "interpolate": "monotone"},
      "encoding": {"color": {"datum": "Tensão de máxima potência", "type": "nominal"}}},
     {"data": {"name": "arrR"}, "mark": {"type": "rule", "color": "black", "strokeWidth": 1.2},
      "encoding": {"x2": {"field": "t2"}}},
     {"data": {"name": "arrR"}, "mark": {"type": "point", "shape": "triangle-right", "filled": true, "color": "black", "size": 60, "opacity": 1},
      "encoding": {}},
     {"data": {"name": "arrL"}, "mark": {"type": "rule", "color": "black", "strokeWidth": 1.2},
      "encoding": {"x2": {"field": "t2"}}},
     {"data": {"name": "arrL"}, "mark": {"type": "point", "shape": "triangle-left", "filled": true, "color": "black", "size": 60, "opacity": 1},
      "encoding": {}}
   ],
   "encoding": {
     "y": {"field": "v", "type": "quantitative",
       "scale": {"domain": [0, 400], "nice": false, "zero": true},
       "axis": {"orient": "right", "title": "Tensão [V]", "values": [0,20,40,60,80,100,120,140,160,180,200,220,240,260,280,300,320,340,360,380,400],
         "grid": false, "labelPadding": 6, "titlePadding": 14, "titleAngle": 270, "titleBaseline": "top"}}
   }}
],
"resolve": {"scale": {"y": "independent"}}
}
